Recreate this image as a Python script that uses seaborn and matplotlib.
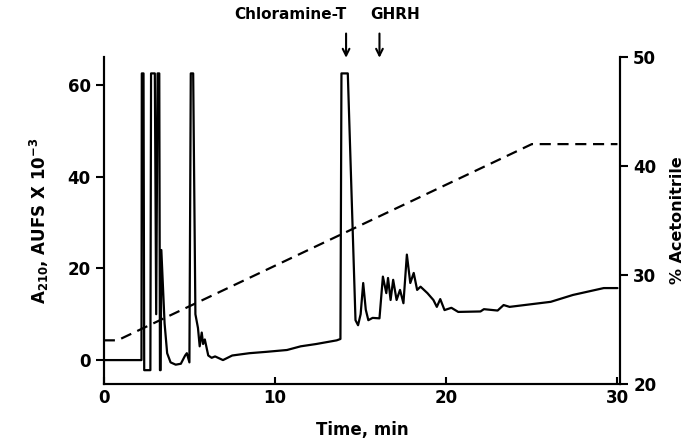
import numpy as np
import pandas as pd
import matplotlib
matplotlib.use("Agg")
import matplotlib.pyplot as plt
import seaborn as sns

# --- chromatogram trace (A210, AUFS x 10^-3) ---
time_min = [0, 2.2, 2.22, 2.32, 2.36, 2.72, 2.76, 2.98, 3.06, 3.14, 3.24, 3.28,
            3.32, 3.36, 3.55, 3.7, 3.9, 4.2, 4.5, 4.75, 4.85, 5.0, 5.08, 5.22,
            5.35, 5.5, 5.6, 5.72, 5.8, 5.9, 6.1, 6.3, 6.5, 6.96, 7.5, 8.5, 9.5,
            10.7, 11.5, 12.4, 13.6, 13.82, 13.88, 14.25, 14.7, 14.85, 15.0,
            15.15, 15.3, 15.45, 15.7, 16.1, 16.3, 16.5, 16.6, 16.75, 16.9, 17.1,
            17.3, 17.5, 17.7, 17.9, 18.1, 18.3, 18.5, 18.9, 19.25, 19.45, 19.65,
            19.9, 20.3, 20.7, 22.0, 22.2, 23.0, 23.35, 23.7, 26.1, 27.4, 29.2, 30.0]
absorbance = [0, 0, 62.5, 62.5, -2.2, -2.2, 62.5, 62.5, 10, 62.5, 62.5, -2.2,
              -2.2, 24, 8, 1.5, -0.5, -1.0, -0.8, 1.0, 1.5, -0.5, 62.5, 62.5,
              10, 7, 3, 6, 3.5, 4.5, 1.0, 0.5, 0.8, 0, 1.0, 1.5, 1.8,
              2.2, 3.0, 3.5, 4.3, 4.6, 62.5, 62.5, 8.7, 7.6, 10,
              16.8, 11, 8.7, 9.2, 9.1, 18.2, 14.6, 17.9, 13.1, 17.5, 13.1,
              15.3, 12.4, 23, 16.8, 19, 15.3, 16.0, 14.6, 13.1, 11.6, 13.3,
              10.9, 11.4, 10.5, 10.6, 11.1, 10.8, 12.0, 11.6, 12.7, 14.2, 15.7, 15.7]

# --- acetonitrile gradient (%) ---
grad_time = [0, 0.8, 25, 30]
acetonitrile = [24, 24, 42, 42]

# --- annotations ---
labels = ["Chloramine-T", "GHRH"]
label_times = [14.15, 16.1]

sns.set_style("ticks")
plt.rcParams["font.family"] = ["DejaVu Sans"]
plt.rcParams["font.weight"] = "bold"
plt.rcParams["axes.labelweight"] = "bold"
plt.rcParams["text.color"] = "black"
plt.rcParams["axes.labelcolor"] = "black"
plt.rcParams["xtick.color"] = "black"
plt.rcParams["ytick.color"] = "black"
plt.rcParams["axes.edgecolor"] = "black"

trace = pd.DataFrame({"time": time_min, "abs": absorbance})
grad = pd.DataFrame({"time": grad_time, "acn": acetonitrile})

fig = plt.figure(figsize=(6.92, 4.48), dpi=100)
ax = fig.add_axes([0.150, 0.143, 0.746, 0.730])
sns.lineplot(data=trace, x="time", y="abs", ax=ax, color="black", linewidth=1.6,
             sort=False, estimator=None)
ax.set_xlim(0, 30.15)
ax.set_ylim(-5.2, 66.1)
ax.set_xticks([0, 10, 20, 30])
ax.set_yticks([0, 20, 40, 60])
ax.set_xlabel("Time, min", fontsize=12, labelpad=10)
ax.set_ylabel("A$_{\\mathbf{210}}$, AUFS X 10$^{\\mathbf{-3}}$", fontsize=12, labelpad=12)

ax2 = ax.twinx()
sns.lineplot(data=grad, x="time", y="acn", ax=ax2, color="black", linewidth=1.6,
             estimator=None)
ax2.lines[0].set_dashes((5, 3))
ax2.set_ylim(20, 50)
ax2.set_yticks([20, 30, 40, 50])
ax2.set_ylabel("% Acetonitrile", fontsize=11.5, labelpad=10)

for a in (ax, ax2):
    a.spines["top"].set_visible(False)
    for s in a.spines.values():
        s.set_linewidth(1.5)
    a.tick_params(width=1.5, length=6, labelsize=12)
ax.tick_params(axis="x", direction="in", length=5)
for t in ax.get_xticklabels() + ax.get_yticklabels() + ax2.get_yticklabels():
    t.set_fontweight("bold")

# arrows and labels
for name, tx in zip(labels, label_times):
    ax.annotate("", xy=(tx, 65.3), xytext=(tx, 71.8), annotation_clip=False,
                arrowprops=dict(arrowstyle="->", color="black", lw=1.5,
                                mutation_scale=12))
ax.text(14.2, 75.3, labels[0], ha="right", va="center", fontsize=11,
        fontweight="bold", clip_on=False)
ax.text(17.0, 75.3, labels[1], ha="center", va="center", fontsize=11,
        fontweight="bold", clip_on=False)

fig.savefig("out.png", dpi=100)
